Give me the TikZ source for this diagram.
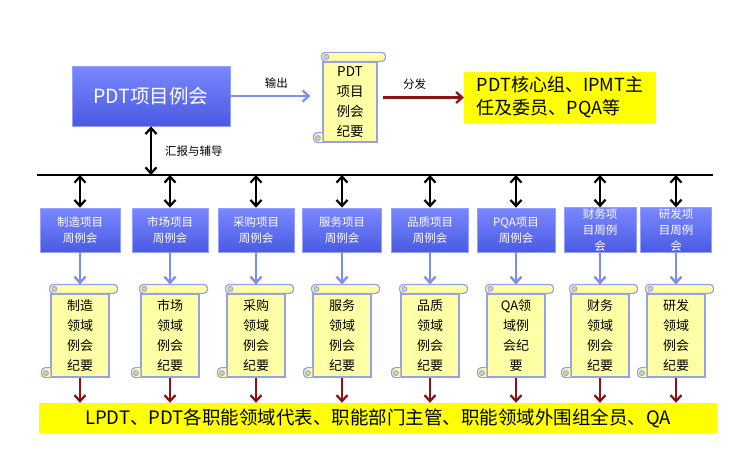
\documentclass[tikz,border=0pt]{standalone}
\usepackage{fontspec}
\setmainfont{Noto Sans CJK SC}
\usepackage{tikz}
\usetikzlibrary{arrows.meta, positioning, calc}
\definecolor{boxtop}{RGB}{122,136,255}
\definecolor{boxbot}{RGB}{74,90,226}
\definecolor{boxedge}{RGB}{150,160,255}
\definecolor{scrolledge}{RGB}{150,160,235}
\definecolor{scrollfill}{RGB}{255,255,165}
\definecolor{curlfill}{RGB}{215,215,150}
\definecolor{arrowblue}{RGB}{125,140,240}
\definecolor{arrowred}{RGB}{140,20,20}
\definecolor{noteyellow}{RGB}{255,255,0}
\tikzset{
	meetbox/.style={draw=boxedge, line width=0.8pt, top color=boxtop, bottom color=boxbot, text=white, align=center, inner sep=1pt},
	minute/.style={draw=scrolledge, line width=1.2pt, fill=scrollfill, align=center, inner sep=0pt, font=\fontsize{13}{20}\selectfont},
	notebox/.style={fill=noteyellow, inner sep=4pt},
	outarr/.style={-{Straight Barb[length=6pt,width=11pt]}, line width=2.3pt, draw=arrowblue},
	sendarr/.style={-{Straight Barb[length=6pt,width=11pt]}, line width=2.3pt, draw=arrowred},
	linkarr/.style={{Straight Barb[length=6pt,width=11pt]}-{Straight Barb[length=6pt,width=11pt]}, line width=2.2pt},
	tag/.style={font=\fontsize{11.5}{13}\selectfont, inner sep=1pt},
}
% roll on top and curl at bottom left of a minutes scroll
\newcommand{\scrollcurl}[1]{%
	\draw[scrolledge, line width=1.2pt, fill=scrollfill, rounded corners=4pt]
		($(#1.north west)+(-1pt,0pt)$) rectangle ($(#1.north east)+(8pt,9pt)$);
	\draw[scrolledge, line width=0.9pt, fill=curlfill] ($(#1.north west)+(4pt,4.5pt)$) circle (2.5pt);
	\draw[scrolledge, line width=1.2pt, fill=scrollfill, rounded corners=4pt]
		($(#1.south west)+(0pt,10pt)$) -- ++(-9pt,0pt) -- ++(0pt,-10pt) -- (#1.south west);
	\draw[scrolledge, line width=0.9pt, fill=curlfill] ($(#1.south west)+(-4.5pt,4.5pt)$) circle (2.5pt);
}

\begin{document}
\begin{tikzpicture}[x=1pt, y=-1pt]
	\useasboundingbox (0,0) rectangle (746,452);
	\node[meetbox, minimum width=158pt, minimum height=60pt, font=\fontsize{19.5}{22}\selectfont] (main) at (151,96) {PDT项目例会};
	\node[minute, minimum width=54pt, minimum height=80pt, font=\fontsize{13.5}{20}\selectfont] (pdtmin) at (350,102) {PDT\\项目\\例会\\纪要};
	\scrollcurl{pdtmin}
	\node[notebox, minimum width=192pt, minimum height=51pt, align=left, font=\fontsize{18}{23}\selectfont] (core) at (560,97.5) {PDT核心组、IPMT主\\任及委员、PQA等};
	\draw[outarr, shorten >=12pt] (main.east) -- node[tag, above=5pt] {输出} (main.east -| pdtmin.west);
	\draw[sendarr, shorten <=5pt] (core.west -| pdtmin.east) -- node[tag, above=6pt, xshift=-6pt] {分发} (core.west);

	% bus to the domain meetings
	\coordinate (busL) at (37,175);
	\coordinate (busR) at (713,175);
	\draw[line width=2.4pt] (busL) -- (busR);
	\draw[linkarr] (main.south) -- node[tag, right=12pt] {汇报与辅导} (main.south |- busL);

	\node[notebox, minimum width=678pt, minimum height=30pt, font=\fontsize{18.5}{20}\selectfont] (all) at (378,418) {LPDT、PDT各职能领域代表、职能部门主管、职能领域外围组全员、QA};

	\foreach \x/\w/\meet/\memo [count=\i] in {
		80/80/{制造项目\\周例会}/{制造\\领域\\例会\\纪要},
		170/76/{市场项目\\周例会}/{市场\\领域\\例会\\纪要},
		256/76/{采购项目\\周例会}/{采购\\领域\\例会\\纪要},
		342/79/{服务项目\\周例会}/{服务\\领域\\例会\\纪要},
		430/77/{品质项目\\周例会}/{品质\\领域\\例会\\纪要},
		516/78/{PQA项目\\周例会}/{QA领\\域例\\会纪\\要},
		600/72/{财务项\\目周例\\会}/{财务\\领域\\例会\\纪要},
		676/71/{研发项\\目周例\\会}/{研发\\领域\\例会\\纪要}}{
		\node[meetbox, minimum width=\w pt, minimum height=44pt, font=\fontsize{11.5}{16}\selectfont] (b\i) at (\x,230) {\meet};
		\node[minute, minimum width=58pt, minimum height=83pt] (s\i) at (\x,335.5) {\memo};
		\scrollcurl{s\i}
		\draw[linkarr] (b\i.north |- busL) -- (b\i.north);
		\draw[outarr, shorten >=9pt] (b\i.south) -- (s\i.north);
		\draw[sendarr] (s\i.south) -- (s\i.south |- all.north);
	}
\end{tikzpicture}
\end{document}
